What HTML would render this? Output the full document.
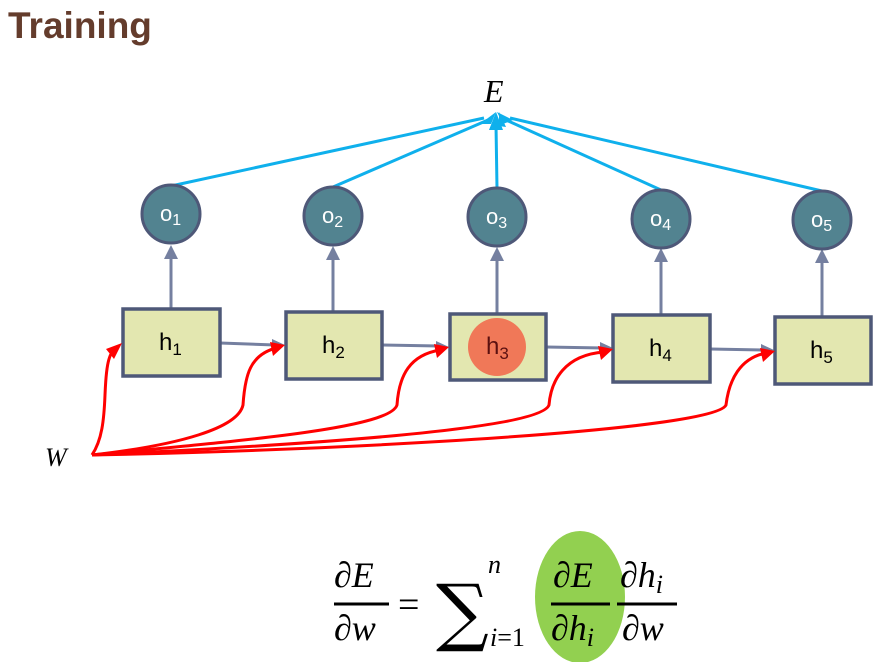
<!DOCTYPE html>
<html><head><meta charset="utf-8"><style>
html,body{margin:0;padding:0;background:#fff;}
svg{display:block;}
</style></head><body>
<svg width="884" height="662" viewBox="0 0 884 662" xmlns="http://www.w3.org/2000/svg">
<defs>
<marker id="rb" viewBox="0 0 10 10" refX="9" refY="5" markerWidth="5" markerHeight="5" orient="auto" markerUnits="userSpaceOnUse" style="overflow:visible">
</marker>
</defs>
<text x="8" y="38" font-family="Liberation Sans, sans-serif" font-weight="bold" font-size="37" fill="#643c2c">Training</text>
<text x="484" y="102" font-family="Liberation Serif, serif" font-style="italic" font-size="32" fill="#000">E</text>

<!-- blue lines -->
<g stroke="#0fb0ec" stroke-width="3" fill="none">
<line x1="171" y1="186" x2="484" y2="118"/>
<line x1="333" y1="187" x2="488" y2="120"/>
<line x1="497" y1="188" x2="496" y2="125"/>
<line x1="661" y1="190" x2="506" y2="120"/>
<line x1="822" y1="191" x2="510" y2="118"/>
</g>
<g fill="#0fb0ec">
<polygon points="496,112 480,124 491,124"/>
<polygon points="496,112 489,130 503,130"/>
<polygon points="497,112 503,124 513,120"/>
<polygon points="499,112 499,126 506,127"/>
</g>

<!-- vertical gray arrows -->
<g stroke="#7580a0" stroke-width="3">
<line x1="171" y1="308" x2="171" y2="258"/>
<line x1="333" y1="311" x2="333" y2="260"/>
<line x1="497" y1="313" x2="497" y2="261"/>
<line x1="661" y1="314" x2="661" y2="262"/>
<line x1="822" y1="316" x2="822" y2="263"/>
<line x1="220" y1="343" x2="275" y2="345"/>
<line x1="382" y1="345" x2="439" y2="346"/>
<line x1="546" y1="347" x2="603" y2="348"/>
<line x1="710" y1="349" x2="764" y2="350"/>
</g>
<g fill="#7580a0">
<polygon points="171,245 164,259 178,259"/>
<polygon points="333,246 326,260 340,260"/>
<polygon points="497,247 490,261 504,261"/>
<polygon points="661,248 654,262 668,262"/>
<polygon points="822,249 815,263 829,263"/>
<polygon points="285,345 272,339 272,351"/>
<polygon points="449,347 436,341 436,353"/>
<polygon points="613,348 600,342 600,354"/>
<polygon points="774,350 761,344 761,356"/>
</g>

<!-- circles -->
<g fill="#528390" stroke="#4e5878" stroke-width="3">
<circle cx="171" cy="214" r="29"/>
<circle cx="333" cy="216" r="29"/>
<circle cx="497" cy="217" r="29"/>
<circle cx="661" cy="219" r="29"/>
<circle cx="822" cy="220" r="29"/>
</g>
<g font-family="Liberation Sans, sans-serif" font-size="22" fill="#fff">
<text x="160" y="221">o<tspan font-size="16" dy="4">1</tspan></text>
<text x="322" y="223">o<tspan font-size="16" dy="4">2</tspan></text>
<text x="486" y="224">o<tspan font-size="16" dy="4">3</tspan></text>
<text x="650" y="226">o<tspan font-size="16" dy="4">4</tspan></text>
<text x="811" y="227">o<tspan font-size="16" dy="4">5</tspan></text>
</g>

<!-- boxes -->
<g fill="#e3e7b0" stroke="#4e5878" stroke-width="3.5">
<rect x="123" y="309" width="97" height="67"/>
<rect x="286" y="312" width="96" height="67"/>
<rect x="450" y="314" width="96" height="66"/>
<rect x="613" y="315" width="97" height="67"/>
<rect x="775" y="317" width="96" height="67"/>
</g>
<circle cx="497" cy="347" r="29" fill="#f07858"/>
<g font-family="Liberation Sans, sans-serif" font-size="24" fill="#000">
<text x="159" y="350">h<tspan font-size="17" dy="5">1</tspan></text>
<text x="322" y="353">h<tspan font-size="17" dy="5">2</tspan></text>
<text x="486" y="354" fill="#5a1010">h<tspan font-size="17" dy="5">3</tspan></text>
<text x="649" y="356">h<tspan font-size="17" dy="5">4</tspan></text>
<text x="810" y="358">h<tspan font-size="17" dy="5">5</tspan></text>
</g>

<!-- red curves -->
<g stroke="#ff0000" stroke-width="3" fill="none">
<path d="M92,455 C102,440 104,420 105,395 C106,370 108,355 114,350"/>
<path d="M92,455 C180,445 238,428 243,405 C245,375 250,355 276,348"/>
<path d="M92,455 C250,440 390,428 397,405 C399,375 410,355 440,350"/>
<path d="M92,455 C300,445 540,430 549,405 C551,380 565,355 604,352"/>
<path d="M92,455 C350,450 715,430 726,405 C729,380 740,358 766,353"/>
</g>
<g fill="#ff0000">
<polygon points="122,343 106,349 114,359"/>
<polygon points="285,345 270,342 273,356"/>
<polygon points="449,347 434,344 437,358"/>
<polygon points="613,349 598,346 601,360"/>
<polygon points="775,351 760,348 763,362"/>
</g>
<text x="45" y="466" font-family="Liberation Serif, serif" font-style="italic" font-size="26" fill="#000">W</text>

<!-- formula -->
<ellipse cx="580" cy="597" rx="45" ry="66" fill="#92d050"/>
<g font-family="Liberation Serif, serif" font-style="italic" font-size="36" fill="#000">
<text x="334" y="587">∂E</text>
<text x="334" y="640">∂w</text>
<text x="553" y="587">∂E</text>
<text x="551" y="640">∂h<tspan font-size="26" dy="6">i</tspan></text>
<text x="620" y="587">∂h<tspan font-size="26" dy="6">i</tspan></text>
<text x="622" y="640">∂w</text>
<text x="488" y="573" font-size="26">n</text>
<text x="490" y="646" font-size="26">i<tspan font-style="normal">=1</tspan></text>
</g>
<text x="398" y="617" font-family="Liberation Serif, serif" font-size="38" fill="#000">=</text>
<text x="436" y="637" font-family="DejaVu Serif, serif" font-size="74" fill="#000">∑</text>
<g stroke="#000" stroke-width="3">
<line x1="334" y1="604" x2="389" y2="604"/>
<line x1="551" y1="604" x2="610" y2="604"/>
<line x1="617" y1="604" x2="677" y2="604"/>
</g>
</svg>
</body></html>
